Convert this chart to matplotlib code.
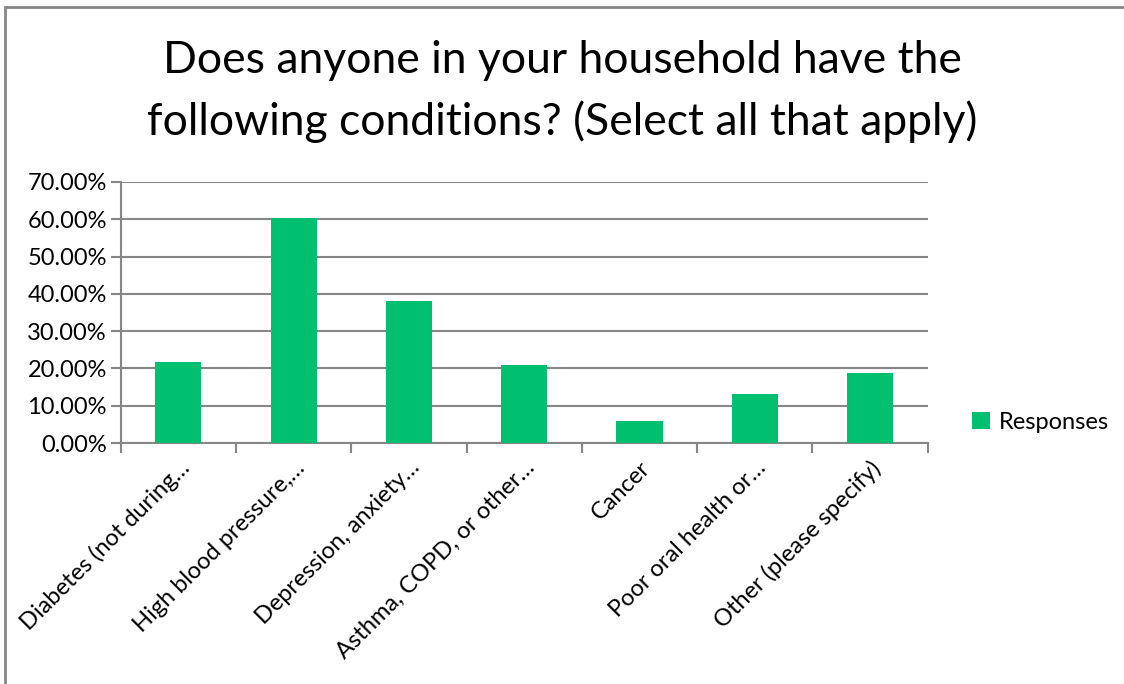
import numpy as np
import matplotlib.pyplot as plt
from matplotlib.patches import Rectangle
from matplotlib.ticker import PercentFormatter, FixedLocator

categories = [
    "Diabetes (not during\u2026",
    "High blood pressure,\u2026",
    "Depression, anxiety\u2026",
    "Asthma, COPD, or other\u2026",
    "Cancer",
    "Poor oral health or\u2026",
    "Other (please specify)",
]
responses = [21.6, 60.2, 38.1, 20.9, 6.0, 13.1, 18.9]
yticks = [0, 10, 20, 30, 40, 50, 60, 70]

plt.rcParams["font.family"] = ["Lato", "DejaVu Sans"]
grid_col = "#868686"
bar_col = "#00BF6F"

fig = plt.figure(figsize=(11.24, 6.84), dpi=100)
ax = fig.add_axes([0.1074, 0.3523, 0.8253 - 0.1074, 0.734 - 0.3523])

x = np.arange(len(categories))
ax.bar(x, responses, width=0.4, color=bar_col, label="Responses", zorder=3)

ax.set_xlim(-0.5, len(categories) - 0.5)
ax.set_ylim(0, 70)
ax.set_yticks(yticks)
ax.yaxis.set_major_formatter(PercentFormatter(decimals=2))
ax.grid(axis="y", color=grid_col, linewidth=1.5, zorder=0)

# category labels at centers, tick marks at boundaries
ax.set_xticks(x)
ax.set_xticklabels(categories, rotation=45, ha="right", va="top",
                   rotation_mode="anchor", fontsize=17)
ax.xaxis.set_minor_locator(FixedLocator(np.arange(-0.5, len(categories), 1)))
ax.tick_params(axis="x", which="major", length=0, pad=10)
ax.tick_params(axis="x", which="minor", length=7, width=1.5, color=grid_col)
ax.tick_params(axis="y", length=7, width=1.5, color=grid_col, labelsize=17, pad=3)

for s in ["top", "right"]:
    ax.spines[s].set_visible(False)
for s in ["left", "bottom"]:
    ax.spines[s].set_color(grid_col)
    ax.spines[s].set_linewidth(1.5)

fig.text(0.5, 0.866, "Does anyone in your household have the\nfollowing conditions? (Select all that apply)",
         ha="center", va="center", fontsize=32, linespacing=1.55)

fig.legend(loc="center left", bbox_to_anchor=(0.846, 0.383), frameon=False,
           fontsize=17, handlelength=0.75, handleheight=0.75, handletextpad=0.4)

fig.patches.append(Rectangle((0.0045, -0.05), 1.1, 1.05 - 0.0102, transform=fig.transFigure,
                             fill=False, edgecolor="#868686", linewidth=2))

fig.savefig("out.png", dpi=100)
